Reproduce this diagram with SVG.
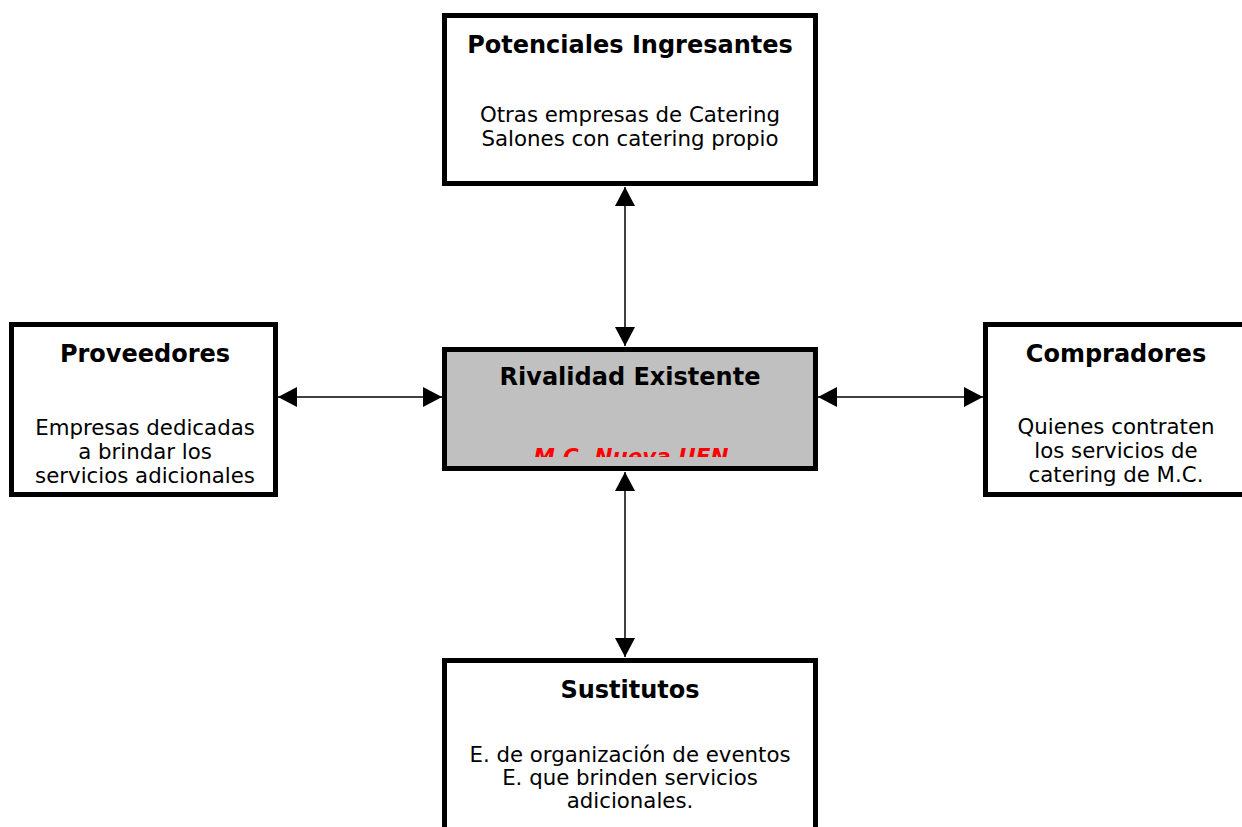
<svg xmlns="http://www.w3.org/2000/svg" width="1242" height="827" viewBox="0 0 1242 827">
  <style>
    .box { fill: #ffffff; stroke: #000000; stroke-width: 5; }
    .center { fill: #c0c0c0; stroke: #000000; stroke-width: 5; }
    .title { font-family: "DejaVu Sans", Verdana, sans-serif; font-weight: bold; font-size: 24px; text-anchor: middle; fill: #000000; }
    .body { font-family: "DejaVu Sans", Verdana, sans-serif; font-size: 21.3px; text-anchor: middle; fill: #000000; }
    .red { font-family: "DejaVu Sans", Verdana, sans-serif; font-weight: bold; font-style: italic; font-size: 21.5px; text-anchor: middle; fill: #ff0000; }
    .conn { stroke: #000000; stroke-width: 1.5; fill: none; }
  </style>
  <defs>
    <marker id="arrow" markerUnits="userSpaceOnUse" markerWidth="20" markerHeight="20" refX="19" refY="10" orient="auto-start-reverse" viewBox="0 0 20 20">
      <path d="M0,0 L19,10 L0,20 Z" fill="#000000"/>
    </marker>
    <clipPath id="clipRed">
      <rect x="447" y="430" width="366" height="27"/>
    </clipPath>
  </defs>
  <rect width="1242" height="827" fill="#ffffff"/>

  <g id="connectors">
    <line class="conn" x1="625" y1="187" x2="625" y2="346" marker-start="url(#arrow)" marker-end="url(#arrow)"/>
    <line class="conn" x1="625" y1="472" x2="625" y2="657" marker-start="url(#arrow)" marker-end="url(#arrow)"/>
    <line class="conn" x1="278" y1="397" x2="442" y2="397" marker-start="url(#arrow)" marker-end="url(#arrow)"/>
    <line class="conn" x1="818" y1="397" x2="983" y2="397" marker-start="url(#arrow)" marker-end="url(#arrow)"/>
  </g>

  <g id="potenciales">
    <rect class="box" x="444.5" y="15.5" width="371" height="168"/>
    <text class="title" x="630" y="53">Potenciales Ingresantes</text>
    <text class="body" x="630" y="122">Otras empresas de Catering</text>
    <text class="body" x="630" y="146">Salones con catering propio</text>
  </g>

  <g id="rivalidad">
    <rect class="center" x="444.5" y="349.5" width="371" height="119"/>
    <text class="title" x="630" y="385">Rivalidad Existente</text>
    <text class="red" x="631" y="464" clip-path="url(#clipRed)">M.C. Nueva UEN</text>
  </g>

  <g id="proveedores">
    <rect class="box" x="11.5" y="324.5" width="264" height="170"/>
    <text class="title" x="145" y="362">Proveedores</text>
    <text class="body" x="145" y="435">Empresas dedicadas</text>
    <text class="body" x="145" y="459">a brindar los</text>
    <text class="body" x="145" y="483">servicios adicionales</text>
  </g>

  <g id="compradores">
    <rect class="box" x="985.5" y="324.5" width="262" height="170"/>
    <text class="title" x="1116" y="362">Compradores</text>
    <text class="body" x="1116" y="434">Quienes contraten</text>
    <text class="body" x="1116" y="458">los servicios de</text>
    <text class="body" x="1116" y="482">catering de M.C.</text>
  </g>

  <g id="sustitutos">
    <rect class="box" x="444.5" y="660.5" width="371" height="180"/>
    <text class="title" x="630" y="698">Sustitutos</text>
    <text class="body" x="630" y="762">E. de organización de eventos</text>
    <text class="body" x="630" y="785">E. que brinden servicios</text>
    <text class="body" x="630" y="808">adicionales.</text>
  </g>
</svg>
